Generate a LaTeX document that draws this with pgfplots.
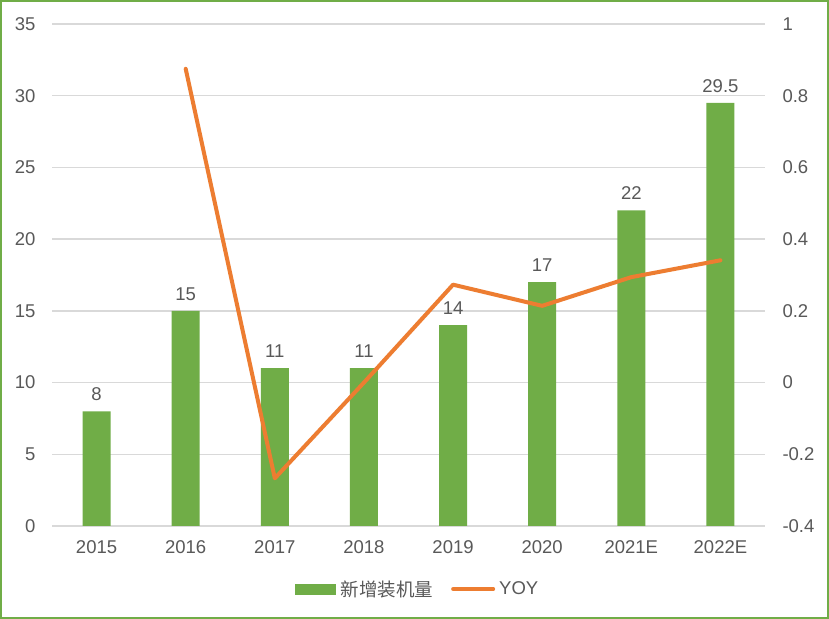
\documentclass[border=0pt]{standalone}
\usepackage{fontspec}
\setmainfont{Liberation Sans}
\newfontfamily\cjk{Noto Sans CJK SC}
\usepackage{pgfplots}
\pgfplotsset{compat=1.18}
\definecolor{barg}{HTML}{70AD47}
\definecolor{lineo}{HTML}{ED7D31}
\definecolor{txt}{HTML}{595959}
\definecolor{gridc}{HTML}{D9D9D9}
\newcommand\lab{\fontsize{18.5bp}{22bp}\selectfont}

\begin{document}
\begin{tikzpicture}
\useasboundingbox (0,0) rectangle (829bp,619bp);
\fill[white] (0,0) rectangle (829bp,619bp);

\pgfplotsset{
  base/.style={
    scale only axis, width=713bp, height=502bp,
    at={(52bp,93bp)}, anchor=south west,
    xmin=-0.5, xmax=7.5,
    axis line style={draw=none},
    major tick length=0pt,
    tick label style={font=\lab, text=txt},
    /pgf/number format/assume math mode=true,
  }
}

% bars, left axis
\begin{axis}[base,
    ymin=0, ymax=35, ytick={0,5,...,35},
    ymajorgrids, grid style={gridc, line width=1.5bp},
    xtick={0,...,7},
    xticklabels={2015,2016,2017,2018,2019,2020,2021E,2022E},
    yticklabel style={xshift=-13bp},
    xticklabel style={yshift=-11bp},
]
\addplot[ybar, bar width=28bp, fill=barg, draw=none,
    nodes near coords, nodes near coords style={font=\lab, text=txt, yshift=7bp}]
    coordinates {(0,8)(1,15)(2,11)(3,11)(4,14)(5,17)(6,22)(7,29.5)};
\end{axis}

% YOY, right axis
\begin{axis}[base,
    axis y line*=right, axis x line=none,
    ymin=-0.4, ymax=1, ytick={-0.4,-0.2,...,1},
    yticklabel style={xshift=14bp, anchor=west},
    legend columns=2,
    legend style={at={(0.513,-0.1255)}, anchor=center, draw=none, fill=none,
        font=\lab, text=txt,
        /tikz/every even column/.append style={column sep=16bp}},
]
\addlegendimage{legend image code/.code={\fill[barg] (0bp,-5bp) rectangle (40bp,5bp);}}
\addlegendentry{\hspace{3bp}\cjk 新增装机量}
\addplot[lineo, line width=4bp, line join=round, line cap=round,
    legend image code/.code={\draw[lineo, line width=4bp, line cap=round] (0bp,0bp) -- (40bp,0bp);}]
    coordinates {(1,0.875)(2,-0.267)(3,0)(4,0.273)(5,0.214)(6,0.294)(7,0.341)};
\addlegendentry{\hspace{2bp}YOY}
\end{axis}

\draw[barg, line width=2bp] (1bp,1bp) rectangle (828bp,618bp);
\end{tikzpicture}
\end{document}
